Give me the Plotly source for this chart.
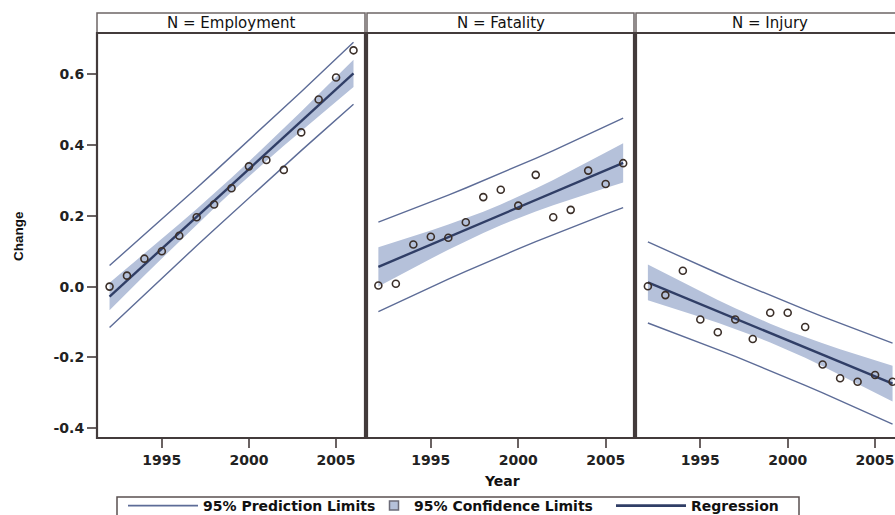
import numpy as np
import plotly.graph_objects as go

# ---------------- data ----------------
years = list(range(1992, 2007))
employment = [0.000, 0.031, 0.079, 0.100, 0.144, 0.196, 0.232, 0.278, 0.340,
              0.358, 0.330, 0.436, 0.529, 0.591, 0.668]
fatality = [0.003, 0.008, 0.119, 0.141, 0.138, 0.182, 0.253, 0.274, 0.229,
            0.316, 0.196, 0.217, 0.328, 0.290, 0.349]
injury = [0.001, -0.024, 0.045, -0.093, -0.129, -0.093, -0.148, -0.074, -0.074,
          -0.114, -0.220, -0.259, -0.269, -0.250, -0.269]
panel_titles = ["N = Employment", "N = Fatality", "N = Injury"]
x_tickvals = [1995, 2000, 2005]
y_tickvals = [-0.4, -0.2, 0.0, 0.2, 0.4, 0.6]
y_ticktext = ["-0.4", "-0.2", "0.0", "0.2", "0.4", "0.6"]
legend_names = ["95% Prediction Limits", "95% Confidence Limits", "Regression"]
T975 = 2.160369  # Student t quantile, 13 df


def fit(x, y):
    x = np.asarray(x, float)
    y = np.asarray(y, float)
    n = len(x)
    b, a = np.polyfit(x, y, 1)
    yhat = a + b * x
    s = np.sqrt(np.sum((y - yhat) ** 2) / (n - 2))
    sxx = np.sum((x - x.mean()) ** 2)
    h = 1.0 / n + (x - x.mean()) ** 2 / sxx
    return yhat, T975 * s * np.sqrt(h), T975 * s * np.sqrt(1 + h)


# ---------------- geometry / style ----------------
W, H = 895, 515
MB = 32                      # bottom margin reserved for the legend
PH = H - MB                  # paper height in px
def px(v): return v / W
def py(v): return 1 - v / PH   # v = pixel from top of figure

x_dom_px = [(97, 365), (367, 634), (636, 895)]
x_ranges = [(1991.28, 2006.66), (1991.35, 2006.62), (1991.32, 2006.14)]
y_range = (-0.428, 0.717)
PLOT_TOP, PLOT_BOT, STRIP_TOP = 33, 438, 13

C_PL = "#5d6c97"
C_REG = "#303e66"
C_BAND = "#b5c1da"
C_MARK = "#3b2f29"
C_FRAME = "#433b3b"
C_TICK = "#6a6262"
TICKFONT = dict(family="DejaVu Sans", size=14, color="#222222", weight="bold")
LEGFONT = dict(family="DejaVu Sans", size=14, color="#111111", weight="bold")

fig = go.Figure()
series = [employment, fatality, injury]
for i, yv in enumerate(series):
    xa = "x" if i == 0 else f"x{i+1}"
    ya = "y" if i == 0 else f"y{i+1}"
    yhat, cl, pl = fit(years, yv)
    fig.add_trace(go.Scatter(
        x=years + years[::-1], y=list(yhat + cl) + list((yhat - cl)[::-1]),
        fill="toself", fillcolor=C_BAND, line=dict(width=0), mode="lines",
        showlegend=False, hoverinfo="skip", xaxis=xa, yaxis=ya))
    for sgn in (1, -1):
        fig.add_trace(go.Scatter(
            x=years, y=yhat + sgn * pl, mode="lines",
            line=dict(color=C_PL, width=1.4), showlegend=False,
            xaxis=xa, yaxis=ya))
    fig.add_trace(go.Scatter(
        x=years, y=yhat, mode="lines", line=dict(color=C_REG, width=2.4),
        showlegend=False, xaxis=xa, yaxis=ya))
    fig.add_trace(go.Scatter(
        x=years, y=yv, mode="markers",
        marker=dict(symbol="circle-open", size=7, color=C_MARK,
                    line=dict(width=1.6, color=C_MARK)),
        showlegend=False, xaxis=xa, yaxis=ya))

# legend-only entries (three side-by-side legends inside one drawn box)
fig.add_trace(go.Scatter(x=[None], y=[None], mode="lines", name=legend_names[0],
                         line=dict(color=C_PL, width=1.6), legend="legend"))
fig.add_trace(go.Scatter(x=[None], y=[None], mode="markers", name=legend_names[1],
                         marker=dict(symbol="square", size=9, color=C_BAND,
                                     line=dict(color="#6b6b78", width=1.5)),
                         legend="legend2"))
fig.add_trace(go.Scatter(x=[None], y=[None], mode="lines", name=legend_names[2],
                         line=dict(color=C_REG, width=2.6), legend="legend3"))

LEG_Y = 1 - 506 / H
def leg(x, iw):
    return dict(orientation="h", xref="container", yref="container",
                x=x / W, xanchor="left", y=LEG_Y, yanchor="middle",
                borderwidth=0, bgcolor="rgba(0,0,0,0)", font=LEGFONT, itemwidth=iw)

layout = dict(
    width=W, height=H, margin=dict(l=0, r=0, t=0, b=MB, autoexpand=False),
    paper_bgcolor="white", plot_bgcolor="white",
    showlegend=True,
    legend=leg(123, 70), legend2=leg(374, 30), legend3=leg(611, 70),
)
for i in range(3):
    xk = "xaxis" if i == 0 else f"xaxis{i+1}"
    yk = "yaxis" if i == 0 else f"yaxis{i+1}"
    layout[xk] = dict(
        domain=[px(x_dom_px[i][0]), px(x_dom_px[i][1])], range=list(x_ranges[i]),
        anchor="y" if i == 0 else f"y{i+1}",
        tickvals=x_tickvals, ticks="outside", ticklen=9, tickwidth=1.5,
        tickcolor=C_TICK, tickfont=TICKFONT, showgrid=False, zeroline=False,
        showline=False, automargin=False)
    layout[yk] = dict(
        domain=[py(PLOT_BOT), py(PLOT_TOP)], range=list(y_range),
        anchor="x" if i == 0 else f"x{i+1}",
        tickvals=y_tickvals, ticktext=y_ticktext,
        ticks="outside" if i == 0 else "", ticklen=9, tickwidth=1.5,
        tickcolor=C_TICK, tickfont=TICKFONT, showticklabels=(i == 0),
        ticklabelstandoff=0,
        showgrid=False, zeroline=False, showline=False, automargin=False)
fig.update_layout(**layout)

shapes = []
annotations = []
for i, (l, r) in enumerate(x_dom_px):
    rr = r if i < 2 else 904
    shapes.append(dict(type="rect", xref="paper", yref="paper",
                       x0=px(l), x1=px(rr), y0=py(PLOT_TOP), y1=py(STRIP_TOP),
                       line=dict(color="#6e6666", width=1.5), fillcolor="white", layer="below"))
    shapes.append(dict(type="rect", xref="paper", yref="paper",
                       x0=px(l), x1=px(rr), y0=py(PLOT_BOT), y1=py(PLOT_TOP),
                       line=dict(color=C_FRAME, width=2.2), layer="above"))
    annotations.append(dict(text=panel_titles[i], xref="paper", yref="paper",
                            x=px((l + rr) / 2), y=py(23), showarrow=False,
                            xanchor="center", yanchor="middle",
                            font=dict(family="DejaVu Sans", size=15, color="#111111")))
# legend frame (bottom edge falls just outside the picture, as in the reference)
shapes.append(dict(type="rect", xref="paper", yref="paper",
                   x0=px(117), x1=px(799), y0=py(521), y1=py(497),
                   line=dict(color="#5a5050", width=1.5), layer="below"))
annotations.append(dict(text="Change", xref="paper", yref="paper", x=px(18), y=py(236),
                        textangle=-90, showarrow=False, xanchor="center", yanchor="middle",
                        font=dict(family="Liberation Sans", size=13.5, color="#111111",
                                  weight="bold")))
annotations.append(dict(text="Year", xref="paper", yref="paper", x=px(502), y=py(481),
                        showarrow=False, xanchor="center", yanchor="middle",
                        font=dict(family="DejaVu Sans", size=14, color="#111111", weight="bold")))
fig.update_layout(shapes=shapes, annotations=annotations)

fig.write_html("out.html")
